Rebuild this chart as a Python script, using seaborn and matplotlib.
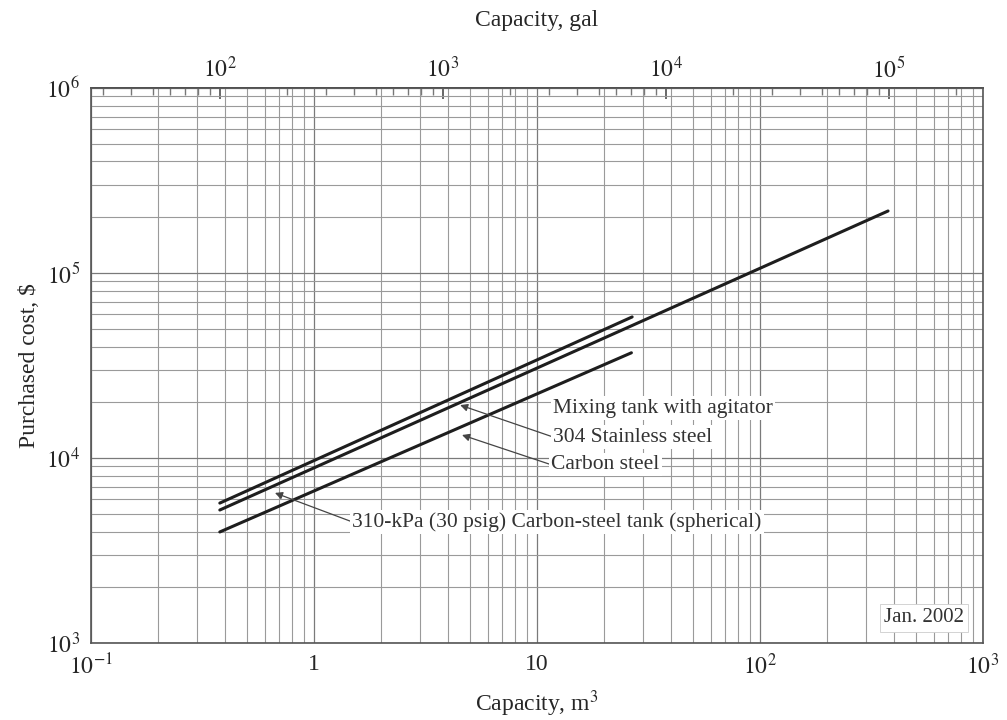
import numpy as np
import pandas as pd
import matplotlib
matplotlib.use("Agg")
import matplotlib.pyplot as plt
import seaborn as sns

# capacity (m3) and purchased cost ($) at the ends of each line, Jan. 2002
series = ["Mixing tank, 304 stainless", "Mixing tank, carbon steel", "Spherical tank 310 kPa"]
cap_start = [0.378, 0.378, 0.378]
cap_end = [26.7, 26.5, 375.0]
cost_start = [5700, 3980, 5230]
cost_end = [57800, 37000, 216000]

GAL_PER_M3 = 264.17

rows = []
for name, c0, c1, p0, p1 in zip(series, cap_start, cap_end, cost_start, cost_end):
    rows.append({"series": name, "capacity": c0, "cost": p0})
    rows.append({"series": name, "capacity": c1, "cost": p1})
df = pd.DataFrame(rows)

sns.set_theme(style="white")
plt.rcParams['font.family'] = ['Liberation Serif', 'DejaVu Serif']
plt.rcParams['mathtext.fontset'] = 'stix'

fig = plt.figure(figsize=(10.07, 7.2), dpi=100)
ax = fig.add_axes([0.0904, 0.107, 0.8858, 0.771])

ax.set_xscale("log")
ax.set_yscale("log")
ax.set_xlim(0.1, 1000)
ax.set_ylim(1e3, 1e6)

ax.grid(True, which="major", color="#7a7a7a", lw=0.9)
ax.grid(True, which="minor", color="#9a9a9a", lw=0.8)
ax.set_axisbelow(True)

sns.lineplot(data=df, x="capacity", y="cost", units="series", estimator=None,
             color="#1e1e1e", lw=2.2, ax=ax, legend=False)

ax.set_xticks([0.1, 1, 10, 100, 1000])
ax.set_xticklabels([r"$10^{-1}$", "1", "10", r"$10^{2}$", r"$10^{3}$"])
ax.set_yticks([1e3, 1e4, 1e5, 1e6])
ax.set_yticklabels([r"$10^{3}$", r"$10^{4}$", r"$10^{5}$", r"$10^{6}$"])
ax.tick_params(axis="both", which="major", labelsize=17, direction="in", length=5,
               color="#666", pad=8)
ax.tick_params(axis="both", which="minor", direction="in", length=3, color="#888")
ax.set_xlabel(r"Capacity, m$^3$", fontsize=17, labelpad=6)
ax.set_ylabel("Purchased cost, $", fontsize=17, labelpad=4)

for s in ax.spines.values():
    s.set_color("#555")
    s.set_linewidth(1.2)

# gallons along the top
sec = ax.secondary_xaxis("top", functions=(lambda v: v * GAL_PER_M3, lambda v: v / GAL_PER_M3))
sec.set_xscale("log")
sec.set_xticks([1e2, 1e3, 1e4, 1e5])
sec.set_xticklabels([r"$10^{2}$", r"$10^{3}$", r"$10^{4}$", r"$10^{5}$"])
sec.tick_params(axis="x", which="major", labelsize=17, direction="in", length=8,
                color="#555", pad=4)
sec.tick_params(axis="x", which="minor", direction="in", length=5, color="#777")
sec.set_xlabel("Capacity, gal", fontsize=17, labelpad=22)

txt = dict(fontsize=15.5, color="#333", va="center", ha="left",
           bbox=dict(boxstyle="square,pad=0.1", fc="white", ec="none"))
arrow = dict(arrowstyle="-|>", color="#444", lw=0.9, mutation_scale=11,
             shrinkA=0, shrinkB=0, relpos=(0, 0.5))

ax.text(0.518, 0.423, "Mixing tank with agitator", transform=ax.transAxes, **txt)
ax.annotate("304 Stainless steel", xy=(4.52, 19300), xytext=(0.518, 0.371),
            textcoords="axes fraction", arrowprops=arrow, **txt)
ax.annotate("Carbon steel", xy=(4.61, 13300), xytext=(0.516, 0.321),
            textcoords="axes fraction", arrowprops=arrow, **txt)
ax.annotate("310-kPa (30 psig) Carbon-steel tank (spherical)", xy=(0.668, 6470),
            xytext=(0.293, 0.218), textcoords="axes fraction", arrowprops=arrow, **txt)

ax.text(0.934, 0.045, "Jan. 2002", transform=ax.transAxes, fontsize=15, color="#333",
        ha="center", va="center",
        bbox=dict(boxstyle="square,pad=0.2", fc="white", ec="#ccc", lw=0.6))

fig.savefig("out.png", dpi=100)
